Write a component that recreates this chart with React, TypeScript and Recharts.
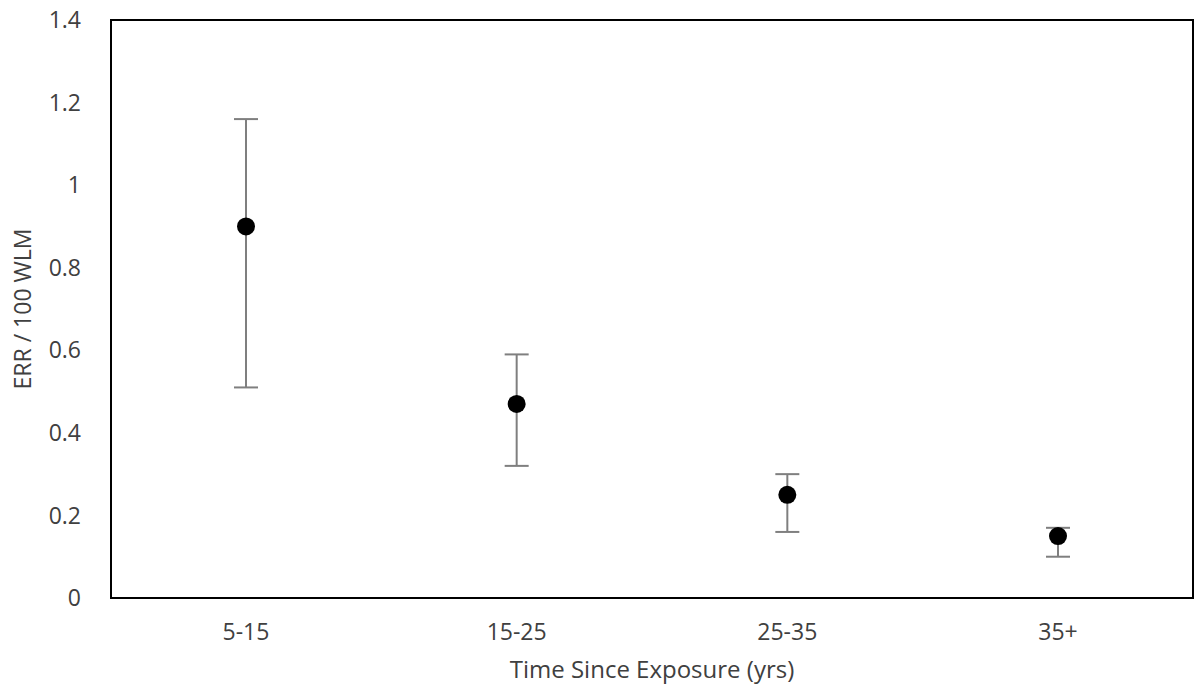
import { ComposedChart, Line, ErrorBar, XAxis, YAxis, usePlotArea } from 'recharts';

const periods = ['5-15', '15-25', '25-35', '35+'];
const err100 = [0.9, 0.47, 0.25, 0.15];
const lower = [0.51, 0.32, 0.16, 0.1];
const upper = [1.16, 0.59, 0.3, 0.17];
const yTicks = [0, 0.2, 0.4, 0.6, 0.8, 1, 1.2, 1.4];

const data = periods.map((p, i) => ({
  period: p,
  value: err100[i],
  ci: [err100[i] - lower[i], upper[i] - err100[i]],
}));

const font = '"Open Sans", sans-serif';
const textColor = '#404040';

function PlotFrame() {
  const area = usePlotArea();
  if (!area) return null;
  return <rect x={area.x} y={area.y} width={area.width} height={area.height} fill="none" stroke="#000" strokeWidth={2} />;
}

export default function App() {
  return (
    <div style={{ position: 'absolute', left: 0, top: 0, fontFamily: font }}>
      <ComposedChart width={1196} height={692} data={data} margin={{ top: 20, right: 3, bottom: 0, left: 0 }}>
        <XAxis
          dataKey="period"
          height={94}
          padding={{ left: 135, right: 135 }}
          axisLine={{ stroke: '#000', strokeWidth: 2 }}
          tickLine={false}
          tickMargin={20}
          tick={{ fill: textColor, fontSize: 23, fontFamily: font }}
          label={{ value: 'Time Since Exposure (yrs)', position: 'insideBottom', offset: 14, fill: textColor, fontSize: 24, fontFamily: font }}
        />
        <YAxis
          width={111}
          domain={[0, 1.4]}
          ticks={yTicks}
          interval={0}
          axisLine={{ stroke: '#000', strokeWidth: 2 }}
          tickLine={false}
          tickMargin={24}
          tick={{ fill: textColor, fontSize: 23, fontFamily: font }}
          label={{ value: 'ERR / 100 WLM', angle: -90, position: 'insideLeft', offset: 23, fill: textColor, fontSize: 23, fontFamily: font, style: { textAnchor: 'middle' } }}
        />
        <PlotFrame />
        <Line
          dataKey="value"
          stroke="none"
          isAnimationActive={false}
          dot={{ r: 9, fill: '#000', stroke: '#000', strokeWidth: 0 }}
          activeDot={false}
        >
          <ErrorBar dataKey="ci" direction="y" width={12} stroke="#7f7f7f" strokeWidth={2} />
        </Line>
      </ComposedChart>
    </div>
  );
}
